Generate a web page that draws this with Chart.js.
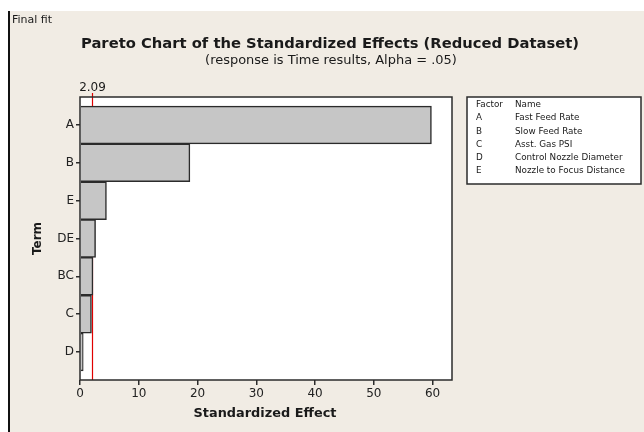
<!DOCTYPE html>
<html>
<head>
<meta charset="utf-8">
<script src="https://cdn.jsdelivr.net/npm/chart.js@4/dist/chart.umd.min.js"></script>
<style>
  html, body { margin: 0; padding: 0; background: #ffffff; }
  #wrap { position: relative; width: 644px; height: 432px; }
</style>
</head>
<body>
<div id="wrap"><canvas id="c" width="644" height="432"></canvas></div>
<script>
// ---- data ----
const terms = ['A', 'B', 'E', 'DE', 'BC', 'C', 'D'];
const effects = [59.8, 18.7, 4.5, 2.65, 2.2, 1.95, 0.55];
const xTicks = [0, 10, 20, 30, 40, 50, 60];
const threshold = 2.09;
const factorCodes = ['A', 'B', 'C', 'D', 'E'];
const factorNames = ['Fast Feed Rate', 'Slow Feed Rate', 'Asst. Gas PSI', 'Control Nozzle Diameter', 'Nozzle to Focus Distance'];
const topLabel = 'Final fit';
const titleText = 'Pareto Chart of the Standardized Effects (Reduced Dataset)';
const subtitleText = '(response is Time results, Alpha = .05)';
const xTitle = 'Standardized Effect';
const yTitle = 'Term';

const FONT = '"DejaVu Sans", Verdana, sans-serif';
const INK = '#2b2b2b';
const BG = '#f1ece4';

function fitFont(ctx, text, weight, targetWidth, startSize) {
  let s = startSize;
  ctx.font = weight + ' ' + s + 'px ' + FONT;
  const w = ctx.measureText(text).width;
  s = s * targetWidth / w;
  return weight + ' ' + s.toFixed(2) + 'px ' + FONT;
}

const decor = {
  id: 'decor',
  beforeDraw(chart) {
    const ctx = chart.ctx;
    ctx.save();
    ctx.fillStyle = '#ffffff';
    ctx.fillRect(0, 0, 644, 432);
    ctx.fillStyle = BG;
    ctx.fillRect(9, 11, 635, 421);
    ctx.strokeStyle = '#111';
    ctx.lineWidth = 2;
    ctx.beginPath(); ctx.moveTo(9, 11); ctx.lineTo(9, 432); ctx.stroke();
    const a = chart.chartArea;
    ctx.fillStyle = '#ffffff';
    ctx.fillRect(a.left, a.top, a.right - a.left, a.bottom - a.top);
    ctx.restore();
  },
  beforeDatasetsDraw(chart) {
    const ctx = chart.ctx;
    const a = chart.chartArea;
    const xs = chart.scales.x;
    ctx.save();
    const tx = Math.round(xs.getPixelForValue(threshold)) + 0.5;
    ctx.strokeStyle = '#e00000';
    ctx.lineWidth = 1.2;
    ctx.beginPath(); ctx.moveTo(tx, a.top - 4); ctx.lineTo(tx, a.bottom); ctx.stroke();
    ctx.restore();
  },
  afterDatasetsDraw(chart) {
    const ctx = chart.ctx;
    const a = chart.chartArea;
    const xs = chart.scales.x;
    const tx = Math.round(xs.getPixelForValue(threshold)) + 0.5;
    ctx.save();
    // frame
    ctx.strokeStyle = INK;
    ctx.lineWidth = 1.5;
    ctx.strokeRect(a.left, a.top, a.right - a.left, a.bottom - a.top);
    // texts
    ctx.fillStyle = '#1a1a1a';
    ctx.textBaseline = 'middle';
    ctx.textAlign = 'left';
    ctx.font = '11px ' + FONT;
    ctx.fillText(topLabel, 12, 20);
    ctx.textAlign = 'center';
    ctx.font = fitFont(ctx, titleText, 'bold', 498, 15);
    ctx.fillText(titleText, 330, 44);
    ctx.font = fitFont(ctx, subtitleText, 'normal', 252, 12);
    ctx.fillText(subtitleText, 331, 61);
    ctx.font = '12px ' + FONT;
    ctx.fillText(threshold.toFixed(2), tx, 88);
    ctx.font = fitFont(ctx, xTitle, 'bold', 143, 12);
    ctx.fillText(xTitle, (a.left + a.right) / 2 - 1, 414);
    ctx.save();
    ctx.translate(38, (a.top + a.bottom) / 2);
    ctx.rotate(-Math.PI / 2);
    ctx.font = 'bold 12px ' + FONT;
    ctx.fillText(yTitle, 0, 0);
    ctx.restore();
    // factor table
    ctx.fillStyle = '#ffffff';
    ctx.fillRect(467, 97, 174, 87);
    ctx.strokeStyle = INK;
    ctx.lineWidth = 1.5;
    ctx.strokeRect(467, 97, 174, 87);
    ctx.fillStyle = '#1a1a1a';
    ctx.textAlign = 'left';
    ctx.font = '8.8px ' + FONT;
    ctx.fillText('Factor', 476, 105);
    ctx.fillText('Name', 515, 105);
    for (let i = 0; i < factorCodes.length; i++) {
      const y = 118 + i * 13.3;
      ctx.fillText(factorCodes[i], 476, y);
      ctx.fillText(factorNames[i], 515, y);
    }
    ctx.restore();
  }
};

new Chart(document.getElementById('c'), {
  type: 'bar',
  data: {
    datasets: [{
      data: effects.map((v, i) => ({ x: v, y: i })),
      backgroundColor: '#c6c6c6',
      borderColor: INK,
      borderWidth: 1.5,
      categoryPercentage: 1,
      barPercentage: 1
    }]
  },
  options: {
    indexAxis: 'y',
    responsive: false,
    animation: false,
    devicePixelRatio: 1,
    layout: { padding: { left: 10, top: 97, right: 192, bottom: 0 } },
    plugins: { legend: { display: false }, tooltip: { enabled: false }, title: { display: false } },
    scales: {
      x: {
        type: 'linear',
        min: 0,
        max: 63.3,
        offset: false,
        afterBuildTicks(scale) { scale.ticks = xTicks.map(v => ({ value: v })); },
        afterFit(scale) { scale.height = 52; },
        grid: { display: true, offset: false, drawOnChartArea: false, drawTicks: true, tickLength: 5, color: INK, lineWidth: 1.5 },
        border: { display: false },
        ticks: { color: '#222', font: { family: FONT, size: 12 }, padding: 2 }
      },
      y: {
        type: 'linear',
        reverse: true,
        min: -0.74,
        max: 6.74,
        offset: false,
        afterBuildTicks(scale) { scale.ticks = terms.map((t, i) => ({ value: i })); },
        afterFit(scale) { scale.width = 70; },
        grid: { display: true, offset: false, drawOnChartArea: false, drawTicks: true, tickLength: 4, color: INK, lineWidth: 1.5 },
        border: { display: false },
        ticks: { color: '#222', font: { family: FONT, size: 12 }, padding: 2, callback: (v) => terms[v] }
      }
    }
  },
  plugins: [decor]
});
</script>
</body>
</html>
